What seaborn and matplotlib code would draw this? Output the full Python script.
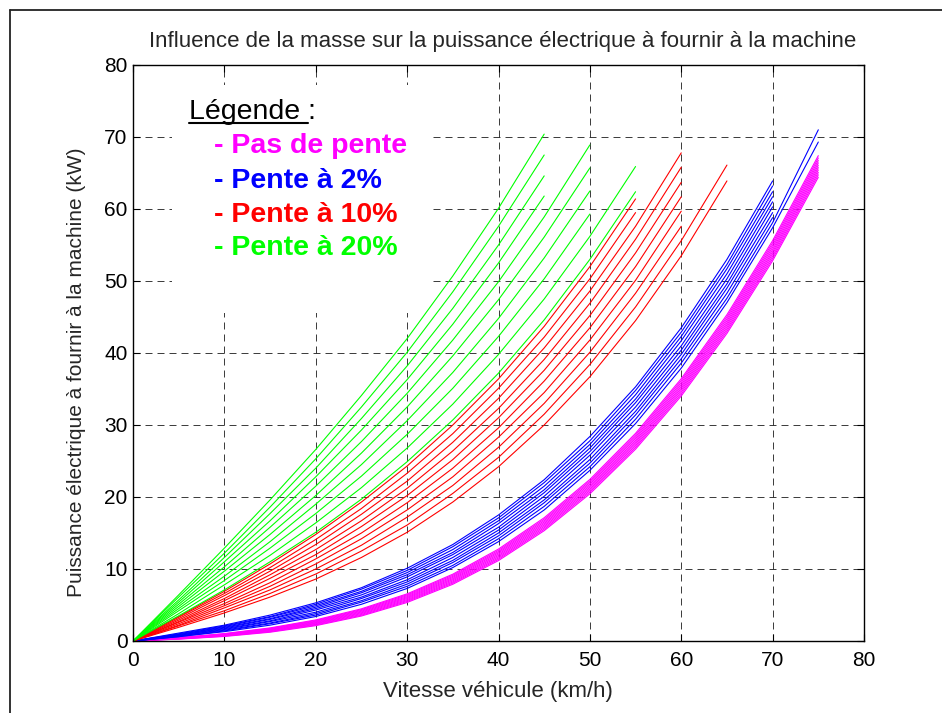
import matplotlib
matplotlib.use("Agg")
import matplotlib.pyplot as plt
import pandas as pd
import seaborn as sns
from matplotlib.lines import Line2D
from matplotlib.patches import Rectangle

# Vehicle speed (km/h) at which the electrical power is evaluated
vitesses = [0, 5, 10, 15, 20, 25, 30, 35, 40, 45, 50, 55, 60, 65, 70, 75]

# Vehicle masses (kg), one curve per mass in each slope group
masses = [1100, 1200, 1300, 1400, 1500, 1600, 1700, 1800, 1900, 2000]

# Electrical power (kW) to supply to the machine, per mass, flat road
pas_de_pente = [
    [0, 0.26, 0.63, 1.22, 2.13, 3.47, 5.35, 7.88, 11.17, 15.32, 20.44, 26.64, 34.03, 42.72, 52.81, 64.41],
    [0, 0.28, 0.68, 1.29, 2.22, 3.58, 5.49, 8.04, 11.35, 15.52, 20.67, 26.89, 34.30, 43.01, 53.12, 64.75],
    [0, 0.31, 0.72, 1.35, 2.31, 3.69, 5.62, 8.19, 11.52, 15.72, 20.89, 27.13, 34.57, 43.30, 53.43, 65.08],
    [0, 0.33, 0.77, 1.42, 2.40, 3.81, 5.75, 8.35, 11.70, 15.92, 21.11, 27.38, 34.84, 43.59, 53.75, 65.42],
    [0, 0.35, 0.81, 1.49, 2.48, 3.92, 5.89, 8.51, 11.88, 16.12, 21.33, 27.62, 35.10, 43.88, 54.05, 65.75],
    [0, 0.37, 0.85, 1.55, 2.57, 4.03, 6.02, 8.66, 12.06, 16.32, 21.55, 27.86, 35.36, 44.16, 54.36, 66.08],
    [0, 0.40, 0.90, 1.62, 2.66, 4.14, 6.15, 8.82, 12.24, 16.52, 21.78, 28.11, 35.63, 44.45, 54.68, 66.41],
    [0, 0.42, 0.94, 1.68, 2.75, 4.25, 6.29, 8.97, 12.41, 16.72, 22.00, 28.35, 35.90, 44.74, 54.99, 66.74],
    [0, 0.44, 0.99, 1.75, 2.84, 4.36, 6.42, 9.13, 12.59, 16.92, 22.22, 28.60, 36.17, 45.03, 55.30, 67.08],
    [0, 0.46, 1.03, 1.82, 2.93, 4.47, 6.55, 9.28, 12.77, 17.12, 22.44, 28.84, 36.43, 45.32, 55.61, 67.41],
]

# 2 % slope
pente_2 = [
    [0, 0.6, 1.3, 2.2, 3.4, 5.1, 7.3, 10.2, 13.8, 18.2, 23.7, 30.2, 37.9, 47.0, 57.4, 69.3],
    [0, 0.6, 1.4, 2.4, 3.6, 5.4, 7.6, 10.5, 14.2, 18.7, 24.2, 30.8, 38.6, 47.6, 58.1, 71.0],
    [0, 0.7, 1.5, 2.5, 3.8, 5.6, 7.9, 10.9, 14.6, 19.2, 24.7, 31.4, 39.2, 48.3, 58.8],
    [0, 0.7, 1.6, 2.7, 4.0, 5.9, 8.2, 11.2, 15.0, 19.6, 25.2, 31.9, 39.8, 49.0, 59.5],
    [0, 0.8, 1.7, 2.8, 4.3, 6.1, 8.5, 11.6, 15.4, 20.1, 25.8, 32.5, 40.4, 49.6, 60.3],
    [0, 0.8, 1.8, 3.0, 4.5, 6.4, 8.9, 12.0, 15.8, 20.6, 26.3, 33.1, 41.0, 50.3, 61.0],
    [0, 0.9, 1.9, 3.1, 4.7, 6.7, 9.2, 12.3, 16.3, 21.0, 26.8, 33.6, 41.7, 51.0, 61.7],
    [0, 0.9, 2.0, 3.3, 4.9, 6.9, 9.5, 12.7, 16.7, 21.5, 27.3, 34.2, 42.3, 51.7, 62.4],
    [0, 1.0, 2.1, 3.4, 5.1, 7.2, 9.8, 13.1, 17.1, 22.0, 27.8, 34.8, 42.9, 52.3, 63.2],
    [0, 1.1, 2.2, 3.6, 5.3, 7.4, 10.1, 13.4, 17.5, 22.4, 28.4, 35.3, 43.5, 53.0, 63.9],
]

# 10 % slope
pente_10 = [
    [0, 1.9, 3.9, 6.1, 8.6, 11.6, 15.1, 19.3, 24.2, 30.0, 36.7, 44.5, 53.5, 63.9],
    [0, 2.1, 4.2, 6.6, 9.3, 12.5, 16.1, 20.5, 25.5, 31.5, 38.4, 46.4, 55.6, 66.1],
    [0, 2.2, 4.6, 7.1, 10.0, 13.3, 17.2, 21.6, 26.9, 33.0, 40.1, 48.3, 57.6],
    [0, 2.4, 4.9, 7.6, 10.7, 14.2, 18.2, 22.8, 28.3, 34.5, 41.8, 50.1, 59.7],
    [0, 2.6, 5.2, 8.1, 11.4, 15.0, 19.2, 24.0, 29.6, 36.1, 43.5, 52.0, 61.7],
    [0, 2.7, 5.6, 8.7, 12.0, 15.9, 20.2, 25.2, 31.0, 37.6, 45.2, 53.9, 63.7],
    [0, 2.9, 5.9, 9.2, 12.7, 16.7, 21.2, 26.4, 32.3, 39.1, 46.9, 55.8, 65.8],
    [0, 3.1, 6.3, 9.7, 13.4, 17.6, 22.2, 27.6, 33.7, 40.7, 48.6, 57.6, 67.8],
    [0, 3.3, 6.6, 10.2, 14.1, 18.4, 23.3, 28.8, 35.1, 42.2, 50.3, 59.5],
    [0, 3.4, 6.9, 10.7, 14.8, 19.3, 24.3, 30.0, 36.4, 43.7, 52.0, 61.4],
]

# 20 % slope
pente_20 = [
    [0, 3.5, 7.1, 11.0, 15.1, 19.7, 24.9, 30.7, 37.2, 44.6, 53.0, 62.4],
    [0, 3.8, 7.8, 11.9, 16.4, 21.3, 26.8, 32.9, 39.8, 47.5, 56.2, 65.9],
    [0, 4.2, 8.4, 12.9, 17.7, 22.9, 28.7, 35.1, 42.3, 50.3, 59.3],
    [0, 4.5, 9.0, 13.8, 19.0, 24.5, 30.6, 37.3, 44.8, 53.2, 62.5],
    [0, 4.8, 9.7, 14.8, 20.2, 26.1, 32.5, 39.6, 47.4, 56.1, 65.7],
    [0, 5.1, 10.3, 15.8, 21.5, 27.7, 34.4, 41.8, 49.9, 58.9, 68.9],
    [0, 5.4, 11.0, 16.7, 22.8, 29.3, 36.3, 44.0, 52.5, 61.8],
    [0, 5.7, 11.6, 17.7, 24.0, 30.9, 38.2, 46.2, 55.0, 64.6],
    [0, 6.1, 12.2, 18.6, 25.3, 32.5, 40.1, 48.5, 57.6, 67.5],
    [0, 6.4, 12.9, 19.6, 26.6, 34.1, 42.0, 50.7, 60.1, 70.4],
]

groupes = ["Pas de pente", "Pente à 2%", "Pente à 10%", "Pente à 20%"]
couleurs = ["#FF00FF", "#0000FF", "#FF0000", "#00FF00"]
axe_ticks = [0, 10, 20, 30, 40, 50, 60, 70, 80]

titre = "Influence de la masse sur la puissance électrique à fournir à la machine"
label_x = "Vitesse véhicule (km/h)"
label_y = "Puissance électrique à fournir à la machine (kW)"

# Long-form table: one row per (slope, mass, speed)
rows = []
for groupe, courbes in zip(groupes, [pas_de_pente, pente_2, pente_10, pente_20]):
    for masse, valeurs in zip(masses, courbes):
        for v, p in zip(vitesses, valeurs):
            rows.append({"vitesse": v, "puissance": p, "pente": groupe,
                         "courbe": f"{groupe} - {masse} kg"})
df = pd.DataFrame(rows)

sns.set_theme(style="white")
plt.rcParams["font.family"] = ["Liberation Sans", "DejaVu Sans"]

W, H = 942, 713
fig = plt.figure(figsize=(W / 100, H / 100), dpi=100)
fig.patch.set_facecolor("white")
ax = fig.add_axes([133 / W, 72 / H, 731 / W, 576 / H])

sns.lineplot(data=df, x="vitesse", y="puissance", hue="pente", hue_order=groupes,
             palette=couleurs, units="courbe", estimator=None, sort=False,
             legend=False, linewidth=0.8, ax=ax)

ax.set_xlim(0, 80)
ax.set_ylim(0, 80)
ax.set_xticks(axe_ticks)
ax.set_yticks(axe_ticks)
ax.set_xlabel("")
ax.set_ylabel("")
ax.set_axisbelow(True)
ax.grid(True, color="#1a1a1a", linestyle=(0, (8.4, 6)), linewidth=0.6)
ax.tick_params(axis="both", which="major", direction="in", length=5, width=0.8,
               color="black", labelsize=15, labelcolor="black",
               bottom=True, top=True, left=True, right=True)
ax.tick_params(axis="x", pad=7.5)
ax.tick_params(axis="y", pad=4)
for sp in ax.spines.values():
    sp.set_color("black")
    sp.set_linewidth(1.0)

# White background behind the legend text block hides the grid there
ax.add_patch(Rectangle((4.3, 45.6), 28.2, 31.6, facecolor="white",
                       edgecolor="none", zorder=1))

fs_leg = 20.5
ax.text(6.13, 72.5, "Légende :", fontsize=fs_leg, color="black",
        ha="left", va="baseline", zorder=3)
entry_y = [67.8, 62.9, 58.2, 53.6]
for lab, col, yy in zip(groupes, couleurs, entry_y):
    ax.text(8.86, yy, "- " + lab, fontsize=fs_leg, fontweight="bold", color=col,
            ha="left", va="baseline", zorder=3)

# Titles and axis labels
fig.text(503 / W, 1 - 47 / H, titre, fontsize=16, ha="center", va="baseline")
fig.text(498 / W, 16 / H, label_x, fontsize=16, ha="center", va="baseline")
fig.text(77 / W, 1 - 372 / H, label_y, fontsize=15, ha="center", va="center",
         rotation=90)

# Underline under "Légende"
fig.canvas.draw()
renderer = fig.canvas.get_renderer()
tmp = ax.text(6.13, 72.5, "Légende", fontsize=fs_leg, ha="left", va="baseline")
bb = tmp.get_window_extent(renderer)
tmp.remove()
base_y = ax.transData.transform((6.13, 72.5))[1]
em_px = fs_leg * 100 / 72
x0, x1 = bb.x0, bb.x1 + 0.278 * em_px
yu = base_y - 4
fig.add_artist(Line2D([x0 / W, x1 / W], [yu / H, yu / H], transform=fig.transFigure,
                      color="black", linewidth=1.5))

# Outer frame (left and top edges)
fig.add_artist(Line2D([9.5 / W, 9.5 / W], [0, 1 - 9.5 / H], transform=fig.transFigure,
                      color="#222222", linewidth=1.3))
fig.add_artist(Line2D([9.5 / W, 1], [1 - 9.5 / H, 1 - 9.5 / H], transform=fig.transFigure,
                      color="#222222", linewidth=1.3))

fig.savefig("out.png", dpi=100)
